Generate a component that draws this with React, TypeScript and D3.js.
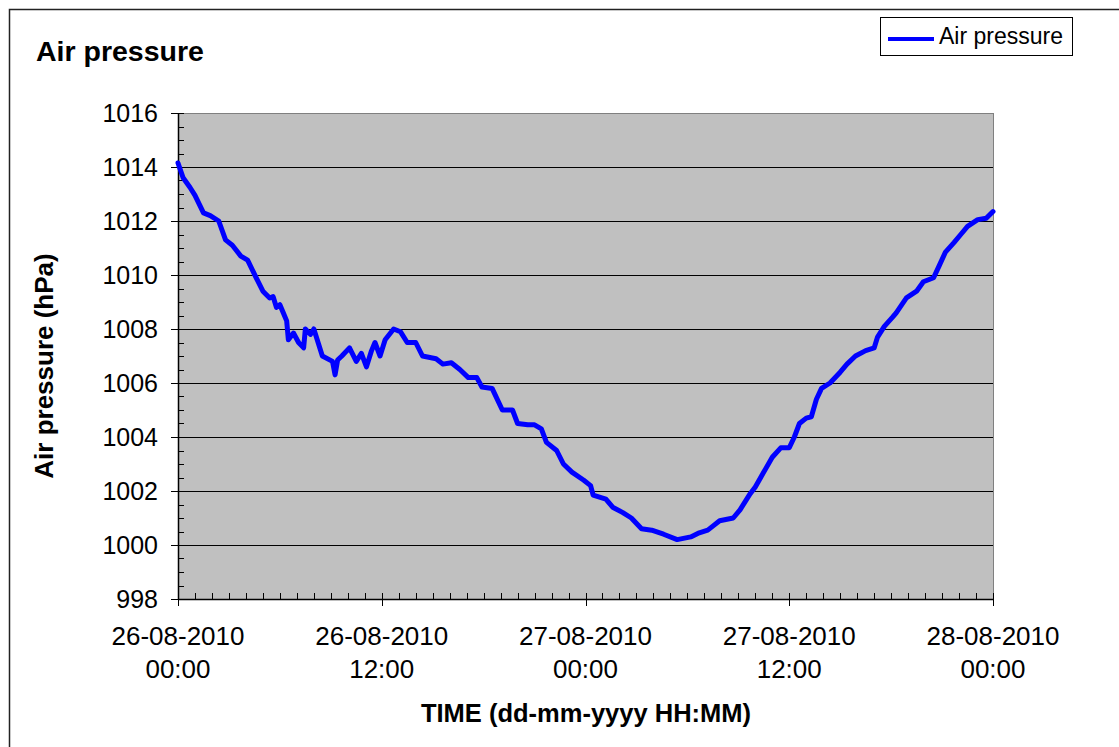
import React from "react";
import * as d3 from "d3";

const START = Date.UTC(2010, 7, 26, 0, 0);
const END = Date.UTC(2010, 7, 28, 0, 0);

// hours since 26-08-2010 00:00
const hours = [
  0.0, 0.3, 0.7, 1.0, 1.5, 1.9, 2.4, 2.8, 3.2, 3.7, 4.1, 4.6, 5.0, 5.4, 5.6, 5.8, 6.0, 6.2, 6.4, 6.5,
  6.8, 7.1, 7.4, 7.5, 7.8, 8.0, 8.2, 8.5, 9.1, 9.25, 9.4, 9.65, 10.1, 10.5, 10.8, 11.1, 11.4, 11.6, 11.9, 12.2,
  12.7, 13.1, 13.5, 14.0, 14.4, 15.2, 15.6, 16.1, 16.6, 17.1, 17.6, 17.9, 18.5, 19.1, 19.7, 20.0, 20.6, 21.0, 21.4, 21.7,
  22.3, 22.7, 23.2, 23.9, 24.3, 24.45, 25.2, 25.6, 26.2, 26.7, 27.3, 27.9, 28.6, 29.4, 30.2, 30.7, 31.2, 31.5, 31.9, 32.7,
  33.1, 33.7, 34.0, 34.5, 35.0, 35.5, 36.0, 36.3, 36.6, 37.0, 37.3, 37.6, 37.9, 38.4, 39.0, 39.4, 39.9, 40.5, 41.0, 41.2,
  41.6, 42.1, 42.3, 42.9, 43.5, 43.9, 44.5, 44.8, 45.2, 45.7, 46.1, 46.5, 47.1, 47.6, 48.0,
];

const pressure = [
  1014.15, 1013.6, 1013.25, 1012.95, 1012.3, 1012.2, 1012.0, 1011.3, 1011.1, 1010.7, 1010.55, 1009.9, 1009.4, 1009.15, 1009.2, 1008.8, 1008.9, 1008.6, 1008.3, 1007.6,
  1007.85, 1007.5, 1007.3, 1008.0, 1007.8, 1008.0, 1007.6, 1007.0, 1006.8, 1006.3, 1006.85, 1007.0, 1007.3, 1006.8, 1007.1, 1006.6, 1007.2, 1007.5, 1007.0, 1007.6,
  1008.0, 1007.9, 1007.5, 1007.5, 1007.0, 1006.9, 1006.7, 1006.75, 1006.5, 1006.2, 1006.2, 1005.85, 1005.8, 1005.0, 1005.0, 1004.5, 1004.45, 1004.45, 1004.3, 1003.8,
  1003.5, 1003.0, 1002.7, 1002.4, 1002.2, 1001.85, 1001.7, 1001.4, 1001.2, 1001.0, 1000.6, 1000.55, 1000.4, 1000.2, 1000.3, 1000.45, 1000.55, 1000.7, 1000.9, 1001.0,
  1001.3, 1001.9, 1002.15, 1002.7, 1003.25, 1003.6, 1003.6, 1004.0, 1004.5, 1004.7, 1004.75, 1005.4, 1005.8, 1006.0, 1006.4, 1006.7, 1007.0, 1007.2, 1007.3, 1007.7,
  1008.1, 1008.45, 1008.6, 1009.15, 1009.4, 1009.75, 1009.9, 1010.3, 1010.85, 1011.2, 1011.5, 1011.8, 1012.05, 1012.1, 1012.35,
];

const yTicks = [998, 1000, 1002, 1004, 1006, 1008, 1010, 1012, 1014, 1016];

const TITLE = "Air pressure";
const SERIES_NAME = "Air pressure";
const Y_TITLE = "Air pressure (hPa)";
const X_TITLE = "TIME (dd-mm-yyyy HH:MM)";

const W = 1119;
const H = 747;
const FONT = "'Liberation Sans', Arial, Helvetica, sans-serif";

export default function App() {
  const left = 178, right = 993, top = 113, bottom = 599;
  const x = d3.scaleUtc().domain([START, END]).range([left, right]);
  const y = d3.scaleLinear().domain([998, 1016]).range([bottom, top]);

  const data = hours.map((h, i) => ({ t: START + h * 3600 * 1000, v: pressure[i] }));
  const line = d3
    .line<{ t: number; v: number }>()
    .x((d) => x(d.t))
    .y((d) => y(d.v));

  const majorX = x.ticks(d3.utcHour.every(12) as any);
  const minorX = x.ticks(d3.utcHour.every(1) as any);
  const minorY = d3.range(998, 1016.01, 0.5);
  const fmtDate = d3.utcFormat("%d-%m-%Y");
  const fmtTime = d3.utcFormat("%H:%M");
  const cr = (v: number) => Math.round(v) + 0.5;

  return (
    <svg
      width={W}
      height={H}
      style={{ position: "absolute", left: 0, top: 0, background: "#fff" }}
      fontFamily={FONT}
    >
      <rect x={0} y={0} width={W} height={H} fill="#fff" />
      <rect x={9.5} y={9.5} width={W + 20} height={H + 20} fill="none" stroke="#222" strokeWidth={1.5} />

      <text x={36} y={61} fontSize={28.5} fontWeight="bold" fill="#000">
        {TITLE}
      </text>

      {/* plot area */}
      <rect x={left} y={top} width={right - left} height={bottom - top} fill="#C0C0C0" />
      {yTicks
        .filter((v) => v > 998 && v < 1016)
        .map((v) => (
          <line key={"g" + v} x1={left} x2={right} y1={cr(y(v))} y2={cr(y(v))} stroke="#000" strokeWidth={1} />
        ))}
      {/* border top/right */}
      <line x1={left} x2={right} y1={cr(top)} y2={cr(top)} stroke="#808080" strokeWidth={1} />
      <line x1={cr(right)} x2={cr(right)} y1={top} y2={bottom} stroke="#808080" strokeWidth={1} />

      {/* y axis */}
      <line x1={cr(left)} x2={cr(left)} y1={top} y2={bottom + 1} stroke="#000" strokeWidth={1.5} />
      {minorY.map((v) => (
        <line key={"my" + v} x1={left} x2={left + 6} y1={cr(y(v))} y2={cr(y(v))} stroke="#000" strokeWidth={1} />
      ))}
      {yTicks.map((v) => (
        <g key={"yt" + v}>
          <line x1={left - 7} x2={left} y1={cr(y(v))} y2={cr(y(v))} stroke="#000" strokeWidth={1} />
          <text x={158} y={y(v)} dy="0.35em" textAnchor="end" fontSize={25} fill="#000">
            {v}
          </text>
        </g>
      ))}

      {/* x axis */}
      <line x1={left} x2={right + 1} y1={cr(bottom)} y2={cr(bottom)} stroke="#000" strokeWidth={1.5} />
      {minorX.map((t) => (
        <line key={"mx" + +t} x1={cr(x(t))} x2={cr(x(t))} y1={bottom - 6} y2={bottom} stroke="#000" strokeWidth={1} />
      ))}
      {majorX.map((t) => (
        <g key={"xt" + +t}>
          <line x1={cr(x(t))} x2={cr(x(t))} y1={bottom} y2={bottom + 7} stroke="#000" strokeWidth={1} />
          <text x={x(t)} y={645} textAnchor="middle" fontSize={26} fill="#000">
            {fmtDate(t)}
          </text>
          <text x={x(t)} y={678} textAnchor="middle" fontSize={26} fill="#000">
            {fmtTime(t)}
          </text>
        </g>
      ))}

      {/* data line */}
      <path d={line(data) || ""} fill="none" stroke="#0000FF" strokeWidth={5} strokeLinejoin="round" strokeLinecap="round" />

      {/* axis titles */}
      <text x={586} y={722} textAnchor="middle" fontSize={25.5} fontWeight="bold" fill="#000">
        {X_TITLE}
      </text>
      <text
        transform={`translate(53, 366) rotate(-90)`}
        textAnchor="middle"
        fontSize={26}
        fontWeight="bold"
        fill="#000"
      >
        {Y_TITLE}
      </text>

      {/* legend */}
      <rect x={880.5} y={17.5} width={192} height={38} fill="#fff" stroke="#000" strokeWidth={1} />
      <line x1={888} x2={934} y1={39} y2={39} stroke="#0000FF" strokeWidth={4} />
      <text x={939} y={44} fontSize={23} fill="#000">
        {SERIES_NAME}
      </text>
    </svg>
  );
}
